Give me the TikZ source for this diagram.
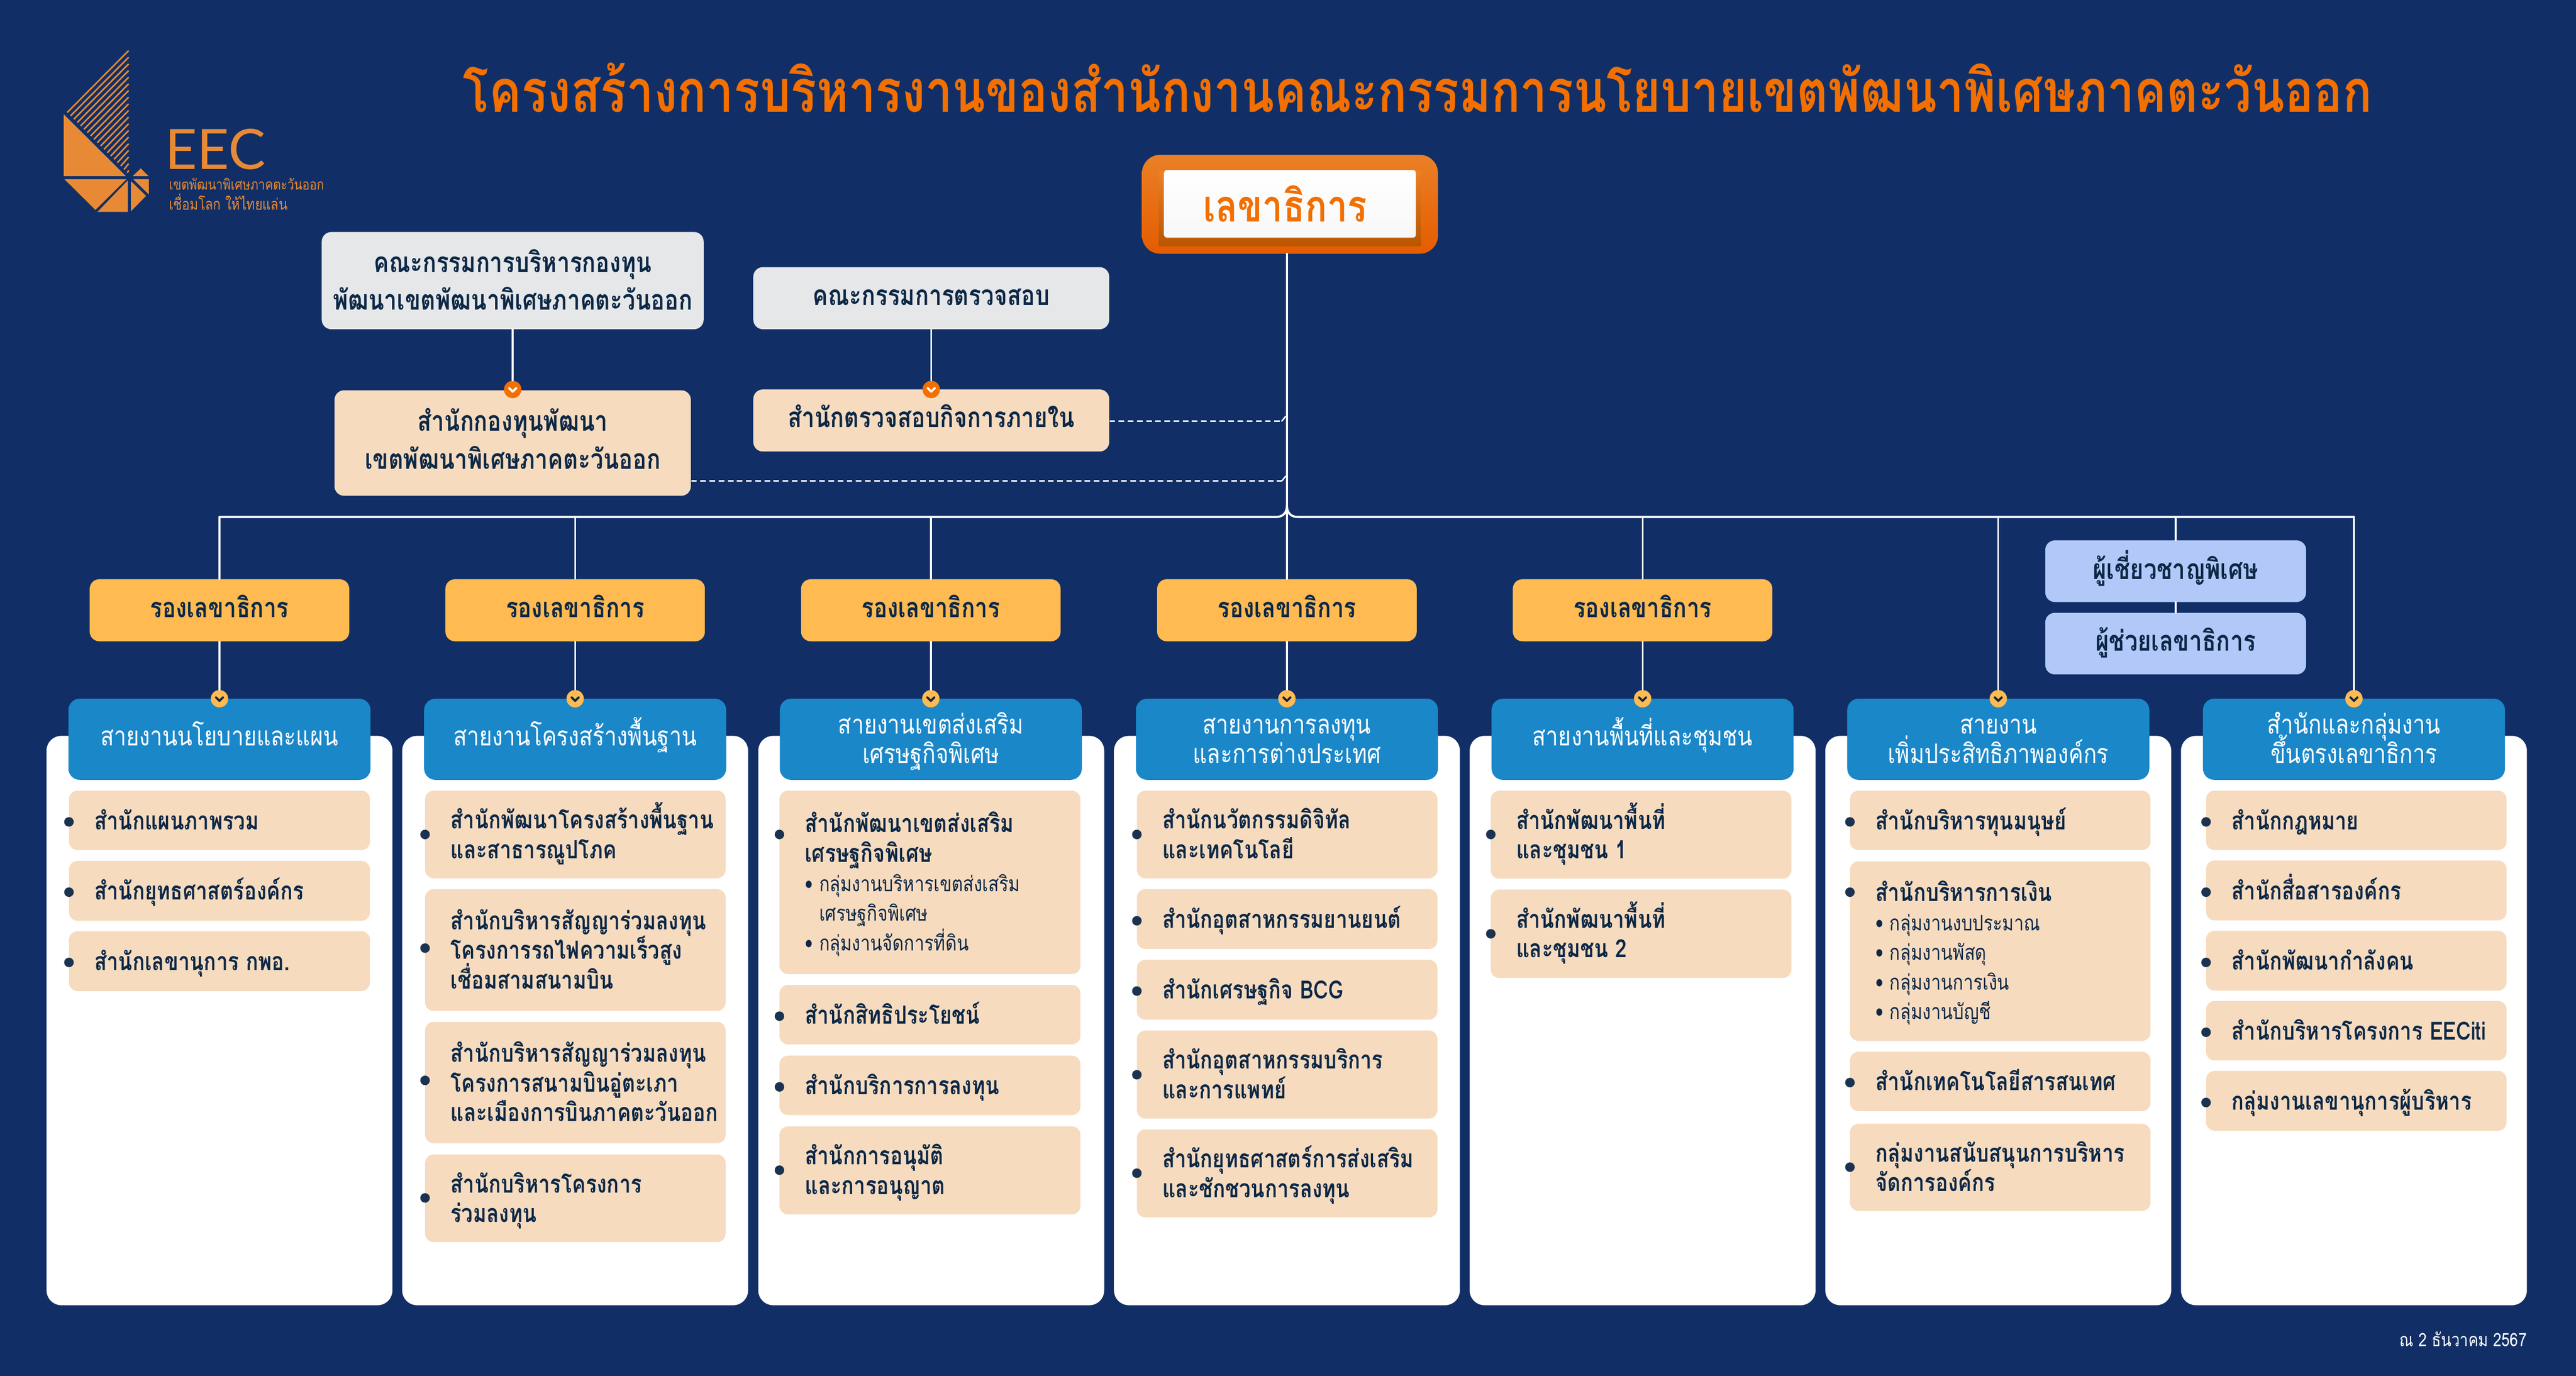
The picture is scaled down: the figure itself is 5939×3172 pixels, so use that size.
\documentclass[tikz,border=0pt]{standalone}
\usepackage{fontspec}
\usepackage{xcolor}
\setmainfont[Script=Thai,FakeStretch=0.82]{Loma}
\newfontfamily\latinlogo{Lato}
\lineskiplimit=-1cm
\definecolor{bgnavy}{RGB}{17,47,102}
\definecolor{logoorange}{RGB}{232,138,53}
\definecolor{titleorange}{RGB}{242,111,0}
\definecolor{chieftop}{RGB}{235,128,38}
\definecolor{chiefbottom}{RGB}{229,92,0}
\definecolor{chiefshade}{RGB}{185,85,0}
\definecolor{inkdark}{RGB}{13,40,70}
\definecolor{dotdark}{RGB}{27,51,80}
\definecolor{peachfill}{RGB}{246,219,191}
\definecolor{greyfill}{RGB}{230,231,233}
\definecolor{headblue}{RGB}{26,135,201}
\definecolor{deputyyellow}{RGB}{255,186,82}
\definecolor{staffblue}{RGB}{178,200,248}
\newcommand{\vfix}[2]{\rule[-#2cm]{0pt}{\dimexpr#1cm+#2cm\relax}}
\newcommand{\subline}[1]{{\fontsize{14}{19.35}\selectfont\mdseries\makebox[0.33cm][l]{\textbullet}#1}}
\newcommand{\subcont}[1]{{\fontsize{14}{19.35}\selectfont\mdseries\hspace*{0.33cm}#1}}
\newcommand{\itembox}[7]{
	\node[itemcard,minimum width={(#4-#2)*0.01cm},minimum height={(#5-#3)*0.01cm}] (#1) at ({(#2+#4)/2},{(#3+#5)/2}) {};
	\node[itemtext] (#1text) at ({#2+58},{(#3+#5)/2}) {\vfix{0.62}{0}#7\vfix{0}{0.2}};
	\node[itemdot] (#1dot) at (#2,#6) {};
}
\newcommand{\badge}[5]{
	\node[badgedot,fill=#4] (#1) at (#2,#3) {};
	\draw[#5,line width=1.4pt] (#1.center) ++(-8,-3) -- ++(8,8) -- ++(8,-8);
}
\begin{document}
\begin{tikzpicture}
	[line cap=round,line join=round,x=0.01cm,y=-0.01cm,
	conn/.style={white,line width=1.2pt},
	dashline/.style={white,line width=0.9pt,line cap=butt,dash pattern=on 3.7pt off 2.3pt},
	columncard/.style={fill=white,rounded corners=0.34cm,minimum width=7.97cm,minimum height=13.12cm,inner sep=0pt},
	headcard/.style={fill=headblue,text=white,rounded corners=0.26cm,minimum width=6.96cm,minimum height=1.87cm,inner sep=0pt,align=center,font=\fontsize{17.6}{19.35}\selectfont},
	deputycard/.style={fill=deputyyellow,text=inkdark,rounded corners=0.22cm,minimum width=5.98cm,minimum height=1.43cm,inner sep=0pt,font=\fontsize{18}{19}\selectfont\bfseries},
	staffcard/.style={fill=staffblue,text=inkdark,rounded corners=0.22cm,minimum width=6.01cm,minimum height=1.42cm,inner sep=0pt,font=\fontsize{18.5}{19}\selectfont\bfseries},
	boardcard/.style={fill=greyfill,text=inkdark,rounded corners=0.22cm,inner sep=0pt,align=center,font=\fontsize{18.3}{24.7}\selectfont\bfseries},
	unitcard/.style={fill=peachfill,text=inkdark,rounded corners=0.22cm,inner sep=0pt,align=center,font=\fontsize{18.3}{24.7}\selectfont\bfseries},
	itemcard/.style={fill=peachfill,rounded corners=0.2cm,inner sep=0pt},
	itemtext/.style={anchor=west,text=inkdark,inner sep=0pt,align=left,font=\fontsize{16.4}{19.35}\selectfont\bfseries},
	itemdot/.style={circle,fill=dotdark,minimum size=0.22cm,inner sep=0pt},
	badgedot/.style={circle,minimum size=0.4cm,inner sep=0pt}]
	\useasboundingbox (0,0) rectangle (5939,3172);
	\fill[bgnavy] (0,0) rectangle (5939,3172);
	\foreach \k in {0,...,18}
		\draw[logoorange,line width=1pt,line cap=butt] ({155+7.7*\k},{259.3+7.73*\k}) -- (296.6,{116.7+15.33*\k});
	\fill[logoorange] (146.7,263.3) -- (146.7,406) -- (290.2,406) -- cycle;
	\fill[logoorange] (324.6,388.3) -- (306,406) -- (342.5,406) -- cycle;
	\fill[logoorange] (148.6,413.3) -- (291.5,413.3) -- (220,484) -- cycle;
	\fill[logoorange] (294.6,416) -- (294.6,488.7) -- (224.5,488.7) -- cycle;
	\fill[logoorange] (301.7,417.3) -- (336.7,451.7) -- (301.7,487.3) -- cycle;
	\fill[logoorange] (307.4,413.3) -- (343,413.3) -- (343,448.3) -- cycle;
	\node[anchor=base west,text=logoorange,inner sep=0pt,font=\latinlogo\fontsize{36.5}{40}\selectfont] (eecmark) at (380,390) {EEC};
	\node[anchor=base west,text=logoorange,inner sep=0pt,font=\fontsize{9.6}{11}\selectfont] (eecname) at (389,438) {เขตพัฒนาพิเศษภาคตะวันออก};
	\node[anchor=base west,text=logoorange,inner sep=0pt,font=\fontsize{10.3}{12}\selectfont] (eecslogan) at (389,484) {เชื่อมโลก ให้ไทยแล่น};
	\node[anchor=base west,text=titleorange,inner sep=0pt,font=\fontsize{38.7}{40}\selectfont\bfseries] (maintitle) at (1067,258) {โครงสร้างการบริหารงานของสำนักงานคณะกรรมการนโยบายเขตพัฒนาพิเศษภาคตะวันออก};
	\node[top color=chieftop,bottom color=chiefbottom,rounded corners=0.42cm,minimum width=6.82cm,minimum height=2.28cm,inner sep=0pt] (chief) at (2974,471) {};
	\node[top color=chieftop,bottom color=chiefshade,minimum width=6.04cm,minimum height=1.73cm,inner sep=0pt] (chiefbevel) at (2974,481) {};
	\node[top color=white,bottom color=white!97!black,rounded corners=0.06cm,minimum width=5.8cm,minimum height=1.56cm,inner sep=0pt,text=titleorange,font=\fontsize{29}{30}\selectfont\bfseries] (chieflabel) at (2974,470) {เลขาธิการ\kern0.22cm};
	\node[boardcard,minimum width=8.8cm,minimum height=2.24cm] (fundboard) at (1182,647) {\vfix{0.72}{0}คณะกรรมการบริหารกองทุน\\พัฒนาเขตพัฒนาพิเศษภาคตะวันออก\vfix{0}{0.23}};
	\node[boardcard,minimum width=8.2cm,minimum height=1.43cm] (auditboard) at (2147,687.5) {\vfix{0.62}{0.3}คณะกรรมการตรวจสอบ};
	\node[unitcard,minimum width=8.21cm,minimum height=2.43cm] (fundunit) at (1182,1021.5) {\vfix{0.62}{0}สำนักกองทุนพัฒนา\\เขตพัฒนาพิเศษภาคตะวันออก\vfix{0}{0.3}};
	\node[unitcard,minimum width=8.2cm,minimum height=1.43cm] (auditunit) at (2147,969.5) {\vfix{0.62}{0.3}สำนักตรวจสอบกิจการภายใน};
	\badge{fundbadge}{1182}{898}{titleorange}{white}
	\badge{auditbadge}{2147}{898}{titleorange}{white}
	\draw[conn] (fundboard) -- (fundbadge);
	\draw[conn] (auditboard) -- (auditbadge);
	\foreach \cname/\cx in {cardA/506,cardB/1326,cardC/2147,cardD/2967,cardE/3787,cardF/4607,cardG/5427}
		\node[columncard] (\cname) at (\cx,2353) {};
	\node[headcard] (headA) at (506,1704.5) {\vfix{0.65}{0.35}สายงานนโยบายและแผน};
	\node[headcard] (headB) at (1326,1704.5) {\vfix{0.65}{0.35}สายงานโครงสร้างพื้นฐาน};
	\node[headcard] (headC) at (2146,1704.5) {\vfix{0.68}{0}สายงานเขตส่งเสริม\\เศรษฐกิจพิเศษ\vfix{0}{0.25}};
	\node[headcard] (headD) at (2967,1704.5) {\vfix{0.68}{0}สายงานการลงทุน\\และการต่างประเทศ\vfix{0}{0.25}};
	\node[headcard] (headE) at (3787,1704.5) {\vfix{0.65}{0.35}สายงานพื้นที่และชุมชน};
	\node[headcard] (headF) at (4607,1704.5) {\vfix{0.68}{0}สายงาน\\เพิ่มประสิทธิภาพองค์กร\vfix{0}{0.25}};
	\node[headcard] (headG) at (5427,1704.5) {\vfix{0.68}{0}สำนักและกลุ่มงาน\\ขึ้นตรงเลขาธิการ\vfix{0}{0.25}};
	\node[deputycard] (deputyA) at (506,1407) {\vfix{0.62}{0.29}รองเลขาธิการ};
	\node[deputycard] (deputyB) at (1326,1407) {\vfix{0.62}{0.29}รองเลขาธิการ};
	\node[deputycard] (deputyC) at (2146,1407) {\vfix{0.62}{0.29}รองเลขาธิการ};
	\node[deputycard] (deputyD) at (2967,1407) {\vfix{0.62}{0.29}รองเลขาธิการ};
	\node[deputycard] (deputyE) at (3787,1407) {\vfix{0.62}{0.29}รองเลขาธิการ};
	\node[staffcard] (expertcard) at (5016,1317) {\vfix{0.62}{0.29}ผู้เชี่ยวชาญพิเศษ};
	\node[staffcard] (assistcard) at (5016,1484) {\vfix{0.62}{0.29}ผู้ช่วยเลขาธิการ};
	\foreach \bname/\bx in {badgeA/506,badgeB/1326,badgeC/2146,badgeD/2967,badgeE/3787,badgeF/4607,badgeG/5427}{
		\badge{\bname}{\bx}{1611}{deputyyellow}{inkdark}
	}
	\coordinate (chiefdrop) at (2967,585);
	\coordinate (barA) at (506,1192);
	\coordinate (barB) at (1326,1192);
	\coordinate (barC) at (2146,1192);
	\coordinate (barE) at (3787,1192);
	\coordinate (barF) at (4607,1192);
	\coordinate (barS) at (5016,1192);
	\coordinate (barG) at (5427,1192);
	\coordinate (barleft) at (2942,1192);
	\coordinate (barright) at (2992,1192);
	\coordinate (barknee) at (2967,1166);
	\draw[conn,line width=1.4pt] (barA) -- (barleft) .. controls (2957,1192) and (2967,1183) .. (barknee);
	\draw[conn,line width=1.4pt] (barG) -- (barright) .. controls (2977,1192) and (2967,1183) .. (barknee);
	\draw[conn] (chiefdrop) -- (deputyD.north);
	\foreach \dname/\bname/\tname in {deputyA/badgeA/barA,deputyB/badgeB/barB,deputyC/badgeC/barC,deputyE/badgeE/barE}{
		\draw[conn] (\tname) -- (\dname.north);
		\draw[conn] (\dname.south) -- (\bname.north);
	}
	\draw[conn] (deputyD.south) -- (badgeD.north);
	\draw[conn] (barF) -- (badgeF.north);
	\draw[conn] (barG) -- (badgeG.north);
	\draw[conn] (barS) -- (expertcard.north);
	\draw[conn] (expertcard.south) -- (assistcard.north);
	\coordinate (dashA) at (2955,971);
	\coordinate (dashB) at (2955,1109);
	\draw[dashline] (dashA -| auditunit.east) -- (dashA);
	\draw[dashline] (dashB -| fundunit.east) -- (dashB);
	\draw[white,line width=0.9pt] (dashA) -- ++(9,-11);
	\draw[white,line width=0.9pt] (dashB) -- ++(9,-11);
	\itembox{itemAa}{159}{1823}{853}{1960}{1895}{สำนักแผนภาพรวม}
	\itembox{itemAb}{159}{1985}{853}{2123}{2057}{สำนักยุทธศาสตร์องค์กร}
	\itembox{itemAc}{159}{2147}{853}{2285}{2219}{สำนักเลขานุการ กพอ.}
	\itembox{itemBa}{980}{1823}{1673}{2025}{1924}{สำนักพัฒนาโครงสร้างพื้นฐาน\\และสาธารณูปโภค}
	\itembox{itemBb}{980}{2050}{1673}{2331}{2186}{สำนักบริหารสัญญาร่วมลงทุน\\โครงการรถไฟความเร็วสูง\\เชื่อมสามสนามบิน}
	\itembox{itemBc}{980}{2356}{1673}{2636}{2491}{สำนักบริหารสัญญาร่วมลงทุน\\โครงการสนามบินอู่ตะเภา\\และเมืองการบินภาคตะวันออก}
	\itembox{itemBd}{980}{2662}{1673}{2864}{2762}{สำนักบริหารโครงการ\\ร่วมลงทุน}
	\itembox{itemCa}{1797}{1823}{2491}{2246}{1924}{สำนักพัฒนาเขตส่งเสริม\\เศรษฐกิจพิเศษ\\\subline{กลุ่มงานบริหารเขตส่งเสริม}\\\subcont{เศรษฐกิจพิเศษ}\\\subline{กลุ่มงานจัดการที่ดิน}}
	\itembox{itemCb}{1797}{2271}{2491}{2408}{2343}{สำนักสิทธิประโยชน์}
	\itembox{itemCc}{1797}{2434}{2491}{2571}{2506}{สำนักบริการการลงทุน}
	\itembox{itemCd}{1797}{2597}{2491}{2800}{2698}{สำนักการอนุมัติ\\และการอนุญาต}
	\itembox{itemDa}{2621}{1823}{3314}{2025}{1924}{สำนักนวัตกรรมดิจิทัล\\และเทคโนโลยี}
	\itembox{itemDb}{2621}{2050}{3314}{2188}{2123}{สำนักอุตสาหกรรมยานยนต์}
	\itembox{itemDc}{2621}{2213}{3314}{2351}{2285}{สำนักเศรษฐกิจ BCG}
	\itembox{itemDd}{2621}{2376}{3314}{2579}{2478}{สำนักอุตสาหกรรมบริการ\\และการแพทย์}
	\itembox{itemDe}{2621}{2604}{3314}{2807}{2705}{สำนักยุทธศาสตร์การส่งเสริม\\และชักชวนการลงทุน}
	\itembox{itemEa}{3437}{1823}{4130}{2026}{1924}{สำนักพัฒนาพื้นที่\\และชุมชน 1}
	\itembox{itemEb}{3437}{2051}{4130}{2255}{2153}{สำนักพัฒนาพื้นที่\\และชุมชน 2}
	\itembox{itemFa}{4265}{1823}{4958}{1960}{1895}{สำนักบริหารทุนมนุษย์}
	\itembox{itemFb}{4265}{1986}{4958}{2400}{2057}{สำนักบริหารการเงิน\\\subline{กลุ่มงานงบประมาณ}\\\subline{กลุ่มงานพัสดุ}\\\subline{กลุ่มงานการเงิน}\\\subline{กลุ่มงานบัญชี}}
	\itembox{itemFc}{4265}{2425}{4958}{2562}{2496}{สำนักเทคโนโลยีสารสนเทศ}
	\itembox{itemFd}{4265}{2591}{4958}{2792}{2691}{กลุ่มงานสนับสนุนการบริหาร\\จัดการองค์กร}
	\itembox{itemGa}{5086}{1823}{5779}{1960}{1895}{สำนักกฎหมาย}
	\itembox{itemGb}{5086}{1984}{5779}{2122}{2057}{สำนักสื่อสารองค์กร}
	\itembox{itemGc}{5086}{2146}{5779}{2284}{2219}{สำนักพัฒนากำลังคน}
	\itembox{itemGd}{5086}{2308}{5779}{2445}{2380}{สำนักบริหารโครงการ EECiti}
	\itembox{itemGe}{5086}{2469}{5779}{2607}{2542}{กลุ่มงานเลขานุการผู้บริหาร}
	\node[anchor=east,text=white,inner sep=0pt,font=\fontsize{12}{14}\selectfont] (datestamp) at (5826,3088) {ณ 2 ธันวาคม 2567};
\end{tikzpicture}
\end{document}
